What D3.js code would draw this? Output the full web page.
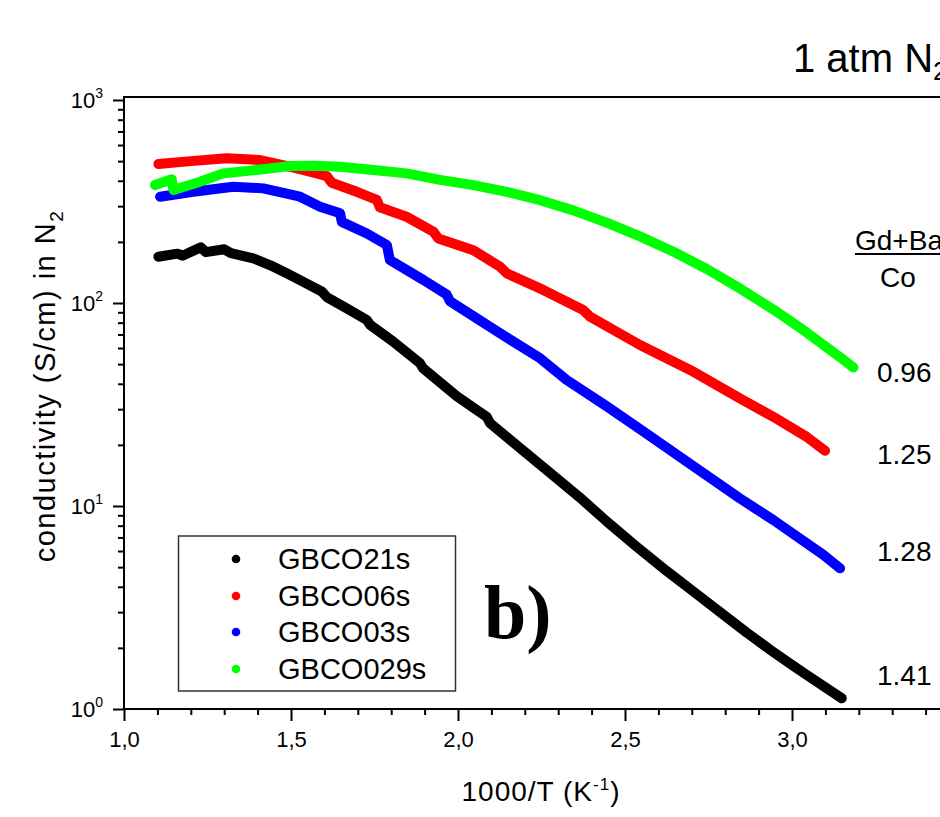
<!DOCTYPE html>
<html>
<head>
<meta charset="utf-8">
<script src="https://cdn.jsdelivr.net/npm/d3@7"></script>
<style>
  html, body { margin: 0; padding: 0; background: #fff; }
  svg { display: block; font-family: Arial, "Liberation Sans", sans-serif; }
</style>
</head>
<body>
<svg id="chart" width="940" height="817"></svg>
<script>
// ---------------- data ----------------
const categories = ["GBCO21s", "GBCO06s", "GBCO03s", "GBCO029s"];
const compositions = ["1.41", "1.25", "1.28", "0.96"];

const x_GBCO21s = [1.103, 1.16, 1.175, 1.23, 1.245, 1.30, 1.32, 1.387, 1.44, 1.487, 1.537, 1.592, 1.607, 1.667, 1.727, 1.737, 1.806, 1.886, 1.895, 1.996, 2.086, 2.096, 2.186, 2.275, 2.365, 2.445, 2.535, 2.625, 2.715, 2.794, 2.864, 2.944, 3.004, 3.064, 3.149];
const y_GBCO21s = [169, 175, 171, 188, 178, 184, 176, 166, 153, 140, 127, 114, 107, 94.2, 82.5, 78, 64.5, 50.5, 47.8, 34.8, 27.5, 25.6, 19.3, 14.6, 11.0, 8.4, 6.3, 4.78, 3.68, 2.92, 2.38, 1.91, 1.63, 1.40, 1.13];

const x_GBCO06s = [1.103, 1.2, 1.307, 1.407, 1.497, 1.577, 1.607, 1.622, 1.697, 1.757, 1.766, 1.846, 1.926, 1.941, 2.046, 2.126, 2.146, 2.255, 2.375, 2.395, 2.545, 2.695, 2.844, 2.944, 3.044, 3.099];
const y_GBCO06s = [484, 500, 516, 506, 469, 435, 422, 391, 353, 322, 296, 266, 225, 208, 182, 151, 140, 116, 92.4, 85.7, 62.1, 46.8, 33.9, 27.5, 21.9, 18.7];

const x_GBCO03s = [1.108, 1.207, 1.327, 1.417, 1.527, 1.587, 1.647, 1.652, 1.727, 1.787, 1.796, 1.896, 1.966, 1.976, 2.126, 2.246, 2.325, 2.445, 2.545, 2.725, 2.844, 2.944, 3.094, 3.144];
const y_GBCO03s = [334, 353, 374, 367, 334, 298, 277, 251, 220, 193, 163, 130, 110, 102, 70.9, 53.4, 41.8, 31.0, 23.9, 14.9, 10.9, 8.53, 5.74, 4.93];

const x_GBCO029s = [1.093, 1.143, 1.148, 1.228, 1.297, 1.397, 1.497, 1.57, 1.647, 1.746, 1.846, 1.946, 2.046, 2.146, 2.246, 2.345, 2.445, 2.545, 2.645, 2.745, 2.844, 2.944, 3.044, 3.144, 3.184];
const y_GBCO029s = [381, 407, 360, 396, 435, 452, 473, 475, 469, 452, 435, 404, 381, 353, 321, 286, 249, 213, 179, 147, 118, 92.9, 71.6, 54.1, 48.1];

const xMajorTicks = [1.0, 1.5, 2.0, 2.5, 3.0, 3.5];
const xTickLabels = ["1,0", "1,5", "2,0", "2,5", "3,0", "3,5"];
const yMajorTicks = [1, 10, 100, 1000];
const yTickExponents = ["0", "1", "2", "3"];

// ---------------- layout ----------------
const colors = ["#000000", "#ff0000", "#0000ff", "#00ff00"];
const series = [
  { name: categories[0], xs: x_GBCO21s, ys: y_GBCO21s },
  { name: categories[1], xs: x_GBCO06s, ys: y_GBCO06s },
  { name: categories[2], xs: x_GBCO03s, ys: y_GBCO03s },
  { name: categories[3], xs: x_GBCO029s, ys: y_GBCO029s }
];

const svg = d3.select("#chart");
const left = 124, bottom = 709, topY = 100, rightX = 959;

const x = d3.scaleLinear().domain([1.0, 3.5]).range([left, rightX]);
const y = d3.scaleLog().domain([1, 1000]).range([bottom, topY]);

// minor ticks
const xMinor = d3.range(10, 36).map(d => d / 10).filter(d => !xMajorTicks.some(m => Math.abs(m - d) < 1e-9));
const yMinor = [];
[1, 10, 100].forEach(dec => { for (let k = 2; k <= 9; k++) yMinor.push(dec * k); });

// frame (top & right)
svg.append("line").attr("x1", left).attr("x2", rightX + 5).attr("y1", topY - 3).attr("y2", topY - 3)
  .attr("stroke", "#000").attr("stroke-width", 2);
svg.append("line").attr("x1", rightX).attr("x2", rightX).attr("y1", topY - 3).attr("y2", bottom)
  .attr("stroke", "#000").attr("stroke-width", 2);

// x axis
const gx = svg.append("g").attr("transform", `translate(0,${bottom})`);
gx.call(d3.axisBottom(x).tickValues(xMajorTicks).tickSize(12).tickPadding(10)
  .tickFormat((d, i) => xTickLabels[i]));
gx.append("g").call(d3.axisBottom(x).tickValues(xMinor).tickSize(6).tickFormat(""));
gx.selectAll("path.domain").attr("stroke-width", 2).attr("d", `M${left},0H${rightX + 5}`);
gx.selectAll(".tick line").attr("stroke-width", 2);
gx.selectAll(".tick text").attr("font-size", 22).attr("fill", "#000")
  .attr("font-family", "Arial, 'Liberation Sans', sans-serif");
gx.selectAll("g > g path.domain").remove();

// y axis
const gy = svg.append("g").attr("transform", `translate(${left},0)`);
gy.call(d3.axisLeft(y).tickValues(yMajorTicks).tickSize(11).tickFormat(""));
gy.append("g").call(d3.axisLeft(y).tickValues(yMinor).tickSize(6).tickFormat(""));
gy.selectAll("path.domain").attr("stroke-width", 2).attr("d", `M0,${bottom + 1}V${topY - 4}`);
gy.selectAll("g > g path.domain").remove();
gy.selectAll(".tick line").attr("stroke-width", 2);

// y tick labels (10^n)
yMajorTicks.forEach((v, i) => {
  const t = svg.append("text").attr("x", 103).attr("y", y(v) + 8)
    .attr("text-anchor", "end").attr("font-size", 22).attr("fill", "#000");
  t.append("tspan").text("10");
  t.append("tspan").attr("dy", -10).attr("font-size", 14).text(yTickExponents[i]);
});

// curves
const line = d3.line().x(d => x(d[0])).y(d => y(d[1])).curve(d3.curveLinear);
series.forEach((s, i) => {
  const pts = s.xs.map((xv, j) => [xv, s.ys[j]]);
  svg.append("path").datum(pts).attr("d", line)
    .attr("fill", "none").attr("stroke", colors[i]).attr("stroke-width", 10)
    .attr("stroke-linecap", "round").attr("stroke-linejoin", "round");
});

// legend
const lg = svg.append("g");
lg.append("rect").attr("x", 178.5).attr("y", 536).attr("width", 277).attr("height", 155)
  .attr("fill", "#fff").attr("stroke", "#333").attr("stroke-width", 1.5);
const legendRows = [559, 596, 632, 669];
categories.forEach((c, i) => {
  lg.append("circle").attr("cx", 236).attr("cy", legendRows[i]).attr("r", 4.3).attr("fill", colors[i]);
  lg.append("text").attr("x", 278).attr("y", legendRows[i] + 10).attr("font-size", 29).attr("fill", "#000").text(c);
});

// "b)" label
svg.append("text").attr("x", 484).attr("y", 638).attr("font-family", "'Liberation Serif', 'Times New Roman', serif")
  .attr("font-weight", "bold").attr("font-size", 76).attr("fill", "#000").text("b)");

// title
const title = svg.append("text").attr("x", 793).attr("y", 72).attr("font-size", 40).attr("fill", "#000");
title.append("tspan").text("1 atm N");
title.append("tspan").attr("dy", 8).attr("font-size", 26).text("2");

// composition fraction header
svg.append("text").attr("x", 855).attr("y", 250).attr("font-size", 28).attr("fill", "#000").text("Gd+Ba");
svg.append("line").attr("x1", 855).attr("x2", 945).attr("y1", 254).attr("y2", 254)
  .attr("stroke", "#000").attr("stroke-width", 2);
svg.append("text").attr("x", 898).attr("y", 287).attr("text-anchor", "middle").attr("font-size", 28).attr("fill", "#000").text("Co");

// composition values
const compY = [685, 464, 561, 382];
compositions.forEach((c, i) => {
  svg.append("text").attr("x", 877).attr("y", compY[i]).attr("font-size", 28).attr("fill", "#000").text(c);
});

// axis titles
const xt = svg.append("text").attr("x", 541).attr("y", 801).attr("text-anchor", "middle")
  .attr("font-size", 28).attr("letter-spacing", 1).attr("fill", "#000");
xt.append("tspan").text("1000/T (K");
xt.append("tspan").attr("dy", -11).attr("font-size", 17).text("-1");
xt.append("tspan").attr("dy", 11).text(")");

const yt = svg.append("text").attr("transform", "translate(55,386) rotate(-90)")
  .attr("text-anchor", "middle").attr("font-size", 29).attr("letter-spacing", 1.5).attr("fill", "#000");
yt.append("tspan").text("conductivity (S/cm) in N");
yt.append("tspan").attr("dy", 8).attr("font-size", 19).text("2");
</script>
</body>
</html>
